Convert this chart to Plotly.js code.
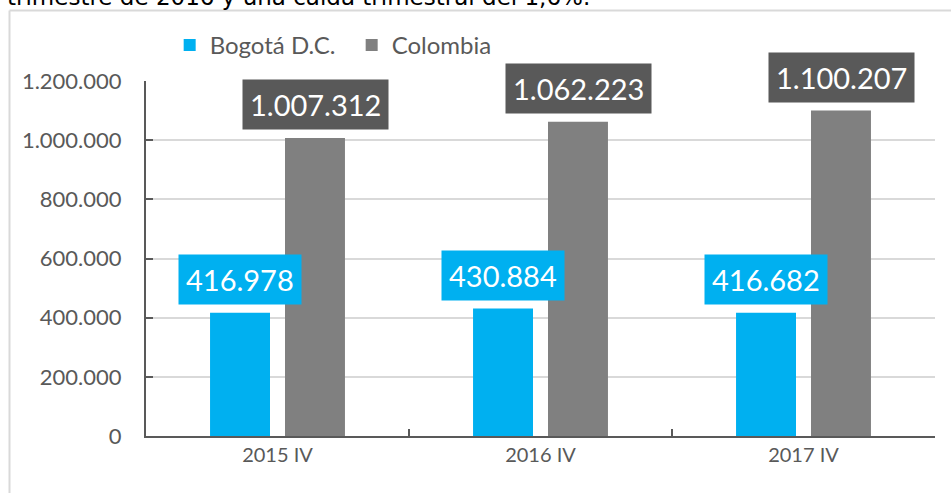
<!DOCTYPE html>
<html>
<head>
<meta charset="utf-8">
<script src="https://cdn.plot.ly/plotly-3.0.1.min.js"></script>
<style>html,body{margin:0;padding:0;background:#fff;}#chart{width:951px;height:493px;}</style>
</head>
<body>
<div id="chart"></div>
<script>
const categories = ["2015 IV", "2016 IV", "2017 IV"];
const bogota = [416978, 430884, 416682];
const colombia = [1007312, 1062223, 1100207];
const seriesNames = ["Bogotá D.C.", "Colombia"];
const yTickVals = [0, 200000, 400000, 600000, 800000, 1000000, 1200000];
const yTickText = ["0", "200.000", "400.000", "600.000", "800.000", "1.000.000", "1.200.000"];
const headerText = "trimestre de 2016 y una caída trimestral del 1,6%.";

const BLUE = "#00B0F0", GRAY = "#808080", DARK = "#595959";
const fmt = v => String(v).replace(/\B(?=(\d{3})+(?!\d))/g, ".");

const traces = [
  {type: "bar", name: seriesNames[0], x: categories, y: bogota, marker: {color: BLUE}, hoverinfo: "none"},
  {type: "bar", name: seriesNames[1], x: categories, y: colombia, marker: {color: GRAY}, hoverinfo: "none"}
];

const annotations = [];
categories.forEach((c, i) => {
  annotations.push({x: c, y: bogota[i], xref: "x", yref: "y", xshift: -37.5, yshift: 8,
    yanchor: "bottom", text: fmt(bogota[i]), showarrow: false, bgcolor: BLUE, borderpad: 7,
    font: {family: "Lato, sans-serif", size: 29, color: "#ffffff"}});
  annotations.push({x: c, y: colombia[i], xref: "x", yref: "y", xshift: 37.5, yshift: 8,
    yanchor: "bottom", text: fmt(colombia[i]), showarrow: false, bgcolor: DARK, borderpad: 7,
    font: {family: "Lato, sans-serif", size: 29, color: "#ffffff"}});
});
annotations.push({xref: "paper", yref: "paper", x: -0.179, y: 1, xanchor: "left", yanchor: "bottom",
  yshift: 69, text: headerText, showarrow: false,
  font: {family: "DejaVu Sans, sans-serif", size: 23, color: "#000000"}});

const layout = {
  width: 951, height: 493,
  margin: {l: 146, r: 16, t: 81, b: 57},
  paper_bgcolor: "#ffffff", plot_bgcolor: "#ffffff",
  barmode: "group", bargap: 0.43, bargroupgap: 0.2,
  showlegend: true,
  legend: {orientation: "h", x: 0.03, y: 1.1, xanchor: "left", yanchor: "middle", entrywidth: 137,
    font: {family: "Lato, sans-serif", size: 24, color: DARK}, bgcolor: "rgba(0,0,0,0)"},
  xaxis: {type: "category", showline: true, linecolor: DARK, linewidth: 2,
    ticks: "inside", tickson: "boundaries", ticklen: 7, tickcolor: DARK, tickwidth: 2,
    showgrid: false, tickfont: {family: "Lato, sans-serif", size: 20, color: DARK}},
  yaxis: {range: [0, 1200000], tickvals: yTickVals, ticktext: yTickText,
    showline: true, linecolor: DARK, linewidth: 2, ticks: "inside", ticklen: 7, tickcolor: DARK, tickwidth: 2,
    showgrid: true, gridcolor: "#d9d9d9", gridwidth: 2, zeroline: false,
    tickfont: {family: "Lato, sans-serif", size: 22, color: DARK}, ticklabelstandoff: 18},
  annotations: annotations,
  shapes: [
    {type: "line", xref: "paper", yref: "paper", x0: -0.173, x1: -0.173, y0: -0.5, y1: 1.1986,
      line: {color: "#d9d9d9", width: 2}, layer: "below"},
    {type: "line", xref: "paper", yref: "paper", x0: -0.173, x1: 1.05, y0: 1.1986, y1: 1.1986,
      line: {color: "#d9d9d9", width: 2}, layer: "below"}
  ]
};

Plotly.newPlot("chart", traces, layout, {displayModeBar: false, staticPlot: true});
</script>
</body>
</html>
